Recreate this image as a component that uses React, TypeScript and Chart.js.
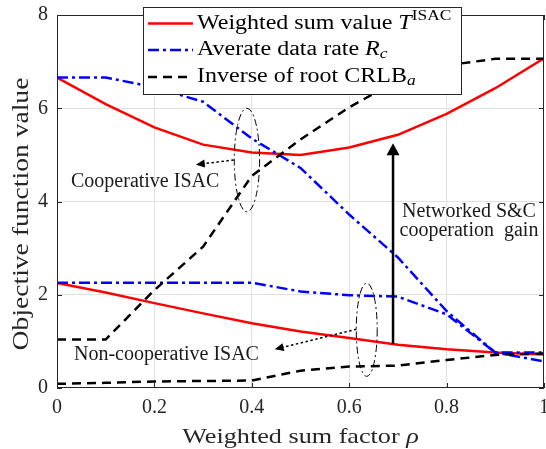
import React, { useEffect, useRef } from "react";
import { Chart, registerables } from "chart.js";

Chart.register(...registerables);

const RHO = [0, 0.1, 0.2, 0.3, 0.4, 0.5, 0.6, 0.7, 0.8, 0.9, 1.0];
const T_COOP = [6.66, 6.09, 5.59, 5.22, 5.05, 5.0, 5.16, 5.43, 5.88, 6.43, 7.07];
const RC_COOP = [6.66, 6.66, 6.45, 6.14, 5.35, 4.72, 3.72, 2.8, 1.65, 0.76, 0.57];
const CRLB_COOP = [1.04, 1.04, 2.1, 3.03, 4.55, 5.33, 6.02, 6.6, 6.92, 7.06, 7.06];
const T_NONCOOP = [2.25, 2.05, 1.82, 1.6, 1.39, 1.21, 1.07, 0.93, 0.83, 0.76, 0.72];
const RC_NONCOOP = [2.26, 2.26, 2.26, 2.26, 2.26, 2.07, 1.99, 1.96, 1.58, 0.76, 0.76];
const CRLB_NONCOOP = [0.09, 0.11, 0.14, 0.15, 0.16, 0.37, 0.46, 0.48, 0.6, 0.71, 0.74];

const X_TICKS = [0, 0.2, 0.4, 0.6, 0.8, 1];
const Y_TICKS = [0, 2, 4, 6, 8];

const RED = "#ff0000";
const BLUE = "#0000ff";
const BLACK = "#000000";
const AXIS = "#262626";
const SERIF = "'Liberation Serif', 'Times New Roman', serif";

const DASH_DOT = [11, 4, 3, 4];
const DASH = [9, 6];

type Part = { t: string; italic?: boolean; size: number; dy?: number };

function richWidth(ctx: CanvasRenderingContext2D, parts: Part[]) {
  let w = 0;
  for (const p of parts) {
    ctx.font = `${p.italic ? "italic " : ""}${p.size}px ${SERIF}`;
    w += ctx.measureText(p.t).width;
  }
  return w;
}

// draws rich text starting at (x,y), stretched horizontally by sx (LaTeX-like wide glyphs)
function drawRich(ctx: CanvasRenderingContext2D, x: number, y: number, parts: Part[], sx = 1) {
  ctx.save();
  ctx.translate(x, y);
  ctx.scale(sx, 1);
  let cx = 0;
  for (const p of parts) {
    ctx.font = `${p.italic ? "italic " : ""}${p.size}px ${SERIF}`;
    ctx.fillText(p.t, cx, p.dy || 0);
    cx += ctx.measureText(p.t).width;
  }
  ctx.restore();
}

function arrowHead(ctx: CanvasRenderingContext2D, x: number, y: number, ang: number, len: number, half: number) {
  ctx.beginPath();
  ctx.moveTo(x, y);
  ctx.lineTo(x - len * Math.cos(ang) + half * Math.sin(ang), y - len * Math.sin(ang) - half * Math.cos(ang));
  ctx.lineTo(x - len * Math.cos(ang) - half * Math.sin(ang), y - len * Math.sin(ang) + half * Math.cos(ang));
  ctx.closePath();
  ctx.fill();
}

const decor = {
  id: "decor",
  afterDatasetsDraw(chart: any) {
    const { ctx, chartArea: a, scales } = chart;
    const xs = scales.x;
    const ys = scales.y;
    const px = (v: number) => xs.getPixelForValue(v);
    const py = (v: number) => ys.getPixelForValue(v);
    ctx.save();

    // box and inward ticks
    ctx.strokeStyle = AXIS;
    ctx.lineWidth = 1;
    ctx.setLineDash([]);
    ctx.strokeRect(a.left + 0.5, a.top + 0.5, a.right - a.left - 1, a.bottom - a.top - 1);
    ctx.beginPath();
    for (const v of X_TICKS) {
      const x = Math.round(px(v)) + 0.5;
      ctx.moveTo(x, a.bottom);
      ctx.lineTo(x, a.bottom - 5);
      ctx.moveTo(x, a.top);
      ctx.lineTo(x, a.top + 5);
    }
    for (const v of Y_TICKS) {
      const y = Math.round(py(v)) + 0.5;
      ctx.moveTo(a.left, y);
      ctx.lineTo(a.left + 5, y);
      ctx.moveTo(a.right, y);
      ctx.lineTo(a.right - 5, y);
    }
    ctx.stroke();

    // axis titles (LaTeX-like, wide glyphs)
    ctx.fillStyle = AXIS;
    ctx.textBaseline = "middle";
    ctx.textAlign = "left";
    const xParts: Part[] = [
      { t: "Weighted sum factor ", size: 22 },
      { t: "ρ", size: 22, italic: true },
    ];
    const xsx = 1.19;
    const xw = richWidth(ctx, xParts) * xsx;
    drawRich(ctx, (a.left + a.right) / 2 - xw / 2, 437, xParts, xsx);

    ctx.save();
    ctx.translate(22, 214);
    ctx.rotate(-Math.PI / 2);
    const yParts: Part[] = [{ t: "Objective function value", size: 23 }];
    const ysx = 1.2;
    const yw = richWidth(ctx, yParts) * ysx;
    drawRich(ctx, -yw / 2, 0, yParts, ysx);
    ctx.restore();

    // ellipses
    ctx.strokeStyle = BLACK;
    ctx.lineWidth = 1;
    ctx.setLineDash([7, 3, 2, 3]);
    const ell = (cx: number, cy: number, rx: number, ry: number) => {
      ctx.beginPath();
      const X = px(cx), Y = py(cy);
      ctx.ellipse(X, Y, Math.abs(px(cx + rx) - X), Math.abs(py(cy + ry) - Y), 0, 0, Math.PI * 2);
      ctx.stroke();
    };
    ell(0.39, 4.89, 0.026, 1.11);
    ell(0.636, 1.25, 0.0215, 1.0);

    // dotted arrows
    ctx.fillStyle = BLACK;
    const dotArrow = (x0: number, y0: number, x1: number, y1: number) => {
      const X0 = px(x0), Y0 = py(y0), X1 = px(x1), Y1 = py(y1);
      const ang = Math.atan2(Y1 - Y0, X1 - X0);
      ctx.setLineDash([2.5, 2.5]);
      ctx.lineWidth = 1.5;
      ctx.beginPath();
      ctx.moveTo(X0, Y0);
      ctx.lineTo(X1 - 7 * Math.cos(ang), Y1 - 7 * Math.sin(ang));
      ctx.stroke();
      ctx.setLineDash([]);
      arrowHead(ctx, X1, Y1, ang, 9, 4);
    };
    dotArrow(0.363, 4.89, 0.285, 4.79);
    dotArrow(0.615, 1.26, 0.447, 0.83);

    // gain arrow
    ctx.setLineDash([]);
    ctx.lineWidth = 2.5;
    const gx = px(0.69);
    ctx.beginPath();
    ctx.moveTo(gx, py(0.94));
    ctx.lineTo(gx, py(5.25) + 10);
    ctx.stroke();
    arrowHead(ctx, gx, py(5.25), -Math.PI / 2, 12, 6.5);

    // annotation texts
    ctx.fillStyle = "#1a1a1a";
    ctx.textAlign = "left";
    ctx.textBaseline = "middle";
    ctx.font = `20px ${SERIF}`;
    ctx.fillText("Cooperative ISAC", 71, 182);
    ctx.fillText("Non-cooperative ISAC", 74, 355);
    ctx.textAlign = "center";
    ctx.fillText("Networked S&C", 469, 212);
    ctx.fillText("cooperation  gain", 469, 231);

    // legend
    const L = { x: 143, y: 7, w: 318, h: 87 };
    ctx.setLineDash([]);
    ctx.fillStyle = "#ffffff";
    ctx.fillRect(L.x, L.y, L.w, L.h);
    ctx.strokeStyle = AXIS;
    ctx.lineWidth = 1;
    ctx.strokeRect(L.x + 0.5, L.y + 0.5, L.w, L.h);
    const rows = [
      { c: RED, d: [] as number[], y: 23.5, parts: [
        { t: "Weighted sum value ", size: 20 },
        { t: "T", size: 20, italic: true },
        { t: "ISAC", size: 14.5, dy: -7 },
      ] as Part[] },
      { c: BLUE, d: DASH_DOT, y: 50, parts: [
        { t: "Averate data rate ", size: 20 },
        { t: "R", size: 20, italic: true },
        { t: "c", size: 14.5, italic: true, dy: 4 },
      ] as Part[] },
      { c: BLACK, d: DASH, y: 77, parts: [
        { t: "Inverse of root CRLB", size: 20 },
        { t: "a", size: 14.5, italic: true, dy: 4 },
      ] as Part[] },
    ];
    for (const r of rows) {
      ctx.strokeStyle = r.c;
      ctx.lineWidth = 2.5;
      ctx.setLineDash(r.d);
      ctx.beginPath();
      ctx.moveTo(148, r.y);
      ctx.lineTo(193, r.y);
      ctx.stroke();
      ctx.setLineDash([]);
      ctx.fillStyle = "#000000";
      ctx.textAlign = "left";
      ctx.textBaseline = "middle";
      drawRich(ctx, 197, r.y, r.parts, 1.2);
    }
    ctx.restore();
  },
};

function series(vals: number[]) {
  return RHO.map((x, i) => ({ x, y: vals[i] }));
}

export default function App() {
  const ref = useRef<HTMLCanvasElement | null>(null);
  useEffect(() => {
    if (!ref.current) return;
    const mk = (label: string, vals: number[], color: string, dash: number[]) => ({
      label,
      data: series(vals),
      borderColor: color,
      backgroundColor: color,
      borderWidth: 2.5,
      borderDash: dash,
      pointRadius: 0,
      tension: 0,
      fill: false,
    });
    const chart = new Chart(ref.current, {
      type: "line",
      data: {
        datasets: [
          mk("CRLB coop", CRLB_COOP, BLACK, DASH),
          mk("CRLB noncoop", CRLB_NONCOOP, BLACK, DASH),
          mk("Rc coop", RC_COOP, BLUE, DASH_DOT),
          mk("Rc noncoop", RC_NONCOOP, BLUE, DASH_DOT),
          mk("T coop", T_COOP, RED, []),
          mk("T noncoop", T_NONCOOP, RED, []),
        ],
      },
      options: {
        responsive: false,
        animation: false,
        events: [],
        layout: { padding: { left: 0, right: 2, top: 15, bottom: 0 } },
        plugins: { legend: { display: false }, tooltip: { enabled: false } },
        scales: {
          x: {
            type: "linear",
            min: 0,
            max: 1,
            afterFit: (s: any) => { s.height = 61; s.paddingLeft = 0; s.paddingRight = 0; },
            afterBuildTicks: (s: any) => { s.ticks = X_TICKS.map((v) => ({ value: v })); },
            ticks: {
              padding: 8,
              color: AXIS,
              font: { family: SERIF, size: 20 },
              maxRotation: 0,
              callback: (v: any) => String(Number(Number(v).toFixed(1))),
            },
            grid: {
              drawTicks: false,
              color: (c: any) => (c.tick && (c.tick.value === 0 || c.tick.value === 1) ? "rgba(0,0,0,0)" : "#e0e0e0"),
            },
            border: { display: false },
          },
          y: {
            min: 0,
            max: 8,
            afterFit: (s: any) => { s.width = 57; s.paddingTop = 0; s.paddingBottom = 0; },
            afterBuildTicks: (s: any) => { s.ticks = Y_TICKS.map((v) => ({ value: v })); },
            ticks: {
              padding: 9,
              color: AXIS,
              font: { family: SERIF, size: 20 },
            },
            grid: {
              drawTicks: false,
              color: (c: any) => (c.tick && (c.tick.value === 0 || c.tick.value === 8) ? "rgba(0,0,0,0)" : "#e0e0e0"),
            },
            border: { display: false },
          },
        },
      },
      plugins: [decor],
    } as any);
    return () => chart.destroy();
  }, []);
  return (
    <div style={{ position: "fixed", left: 0, top: 0, width: 546, height: 449, background: "#fff" }}>
      <canvas ref={ref} width={546} height={449} style={{ width: 546, height: 449 }} />
    </div>
  );
}
